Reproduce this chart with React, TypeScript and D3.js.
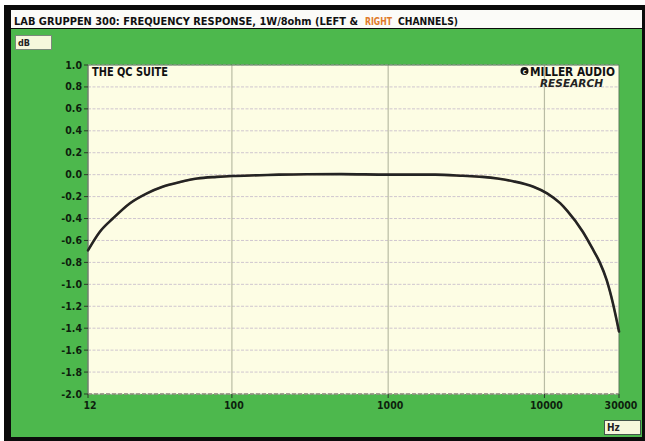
import React from "react";
import * as d3 from "d3";

const freqs = [12, 14.3, 17.3, 22.3, 28.6, 36, 46.6, 60, 80, 100, 150, 200, 300, 500, 1000, 2000, 3000, 4000, 5000, 6300, 8500, 10400, 12600, 14000, 17600, 20400, 22600, 25000, 27400, 30000];
const levels = [-0.69, -0.52, -0.40, -0.26, -0.17, -0.11, -0.067, -0.035, -0.02, -0.012, -0.005, 0, 0.004, 0.005, 0.0, 0.0, -0.01, -0.02, -0.035, -0.06, -0.11, -0.17, -0.26, -0.33, -0.52, -0.68, -0.80, -0.96, -1.17, -1.43];
const yTicks = [1.0, 0.8, 0.6, 0.4, 0.2, 0.0, -0.2, -0.4, -0.6, -0.8, -1.0, -1.2, -1.4, -1.6, -1.8, -2.0];
const xTicks = [12, 100, 1000, 10000, 30000];
const xGrid = [100, 1000, 10000];

const W = 645, H = 441;
const L = 88, R = 619, T = 65, B = 394;
const FONT = "'Liberation Sans Narrow', 'DejaVu Sans Condensed', 'Arial Narrow', sans-serif";

export default function App() {
  const x = d3.scaleLog().domain([12, 30000]).range([L, R]);
  const y = d3.scaleLinear().domain([-2, 1]).range([B, T]);
  const line = d3.line<number>()
    .x((_, i) => x(freqs[i]))
    .y((d) => y(d))
    .curve(d3.curveMonotoneX);
  const path = line(levels) || "";

  return (
    <svg width={W} height={H} style={{ position: "absolute", left: 0, top: 0 }}>
      <rect x={0} y={0} width={W} height={H} fill="#ffffff" />
      {/* outer black frame */}
      <rect x={4} y={5} width={641} height={436} fill="#0b0b0b" />
      {/* title bar */}
      <rect x={11} y={10} width={631} height={18} fill="#fbfbf8" />
      {/* green panel */}
      <rect x={11} y={29} width={631} height={408} fill="#4db84d" />
      <text x={14} y={25} fontFamily={FONT} fontWeight="bold" fontSize={10.5} fill="#111" textLength={344} lengthAdjust="spacingAndGlyphs">LAB GRUPPEN 300: FREQUENCY RESPONSE, 1W/8ohm (LEFT &amp;</text>
      <text x={365} y={25} fontFamily={FONT} fontWeight="bold" fontSize={10.5} fill="#e07a2a" textLength={27} lengthAdjust="spacingAndGlyphs">RIGHT</text>
      <text x={398} y={25} fontFamily={FONT} fontWeight="bold" fontSize={10.5} fill="#111" textLength={60} lengthAdjust="spacingAndGlyphs">CHANNELS)</text>
      {/* dB box */}
      <rect x={15.5} y={35.5} width={36} height={14} fill="#f6f8dc" stroke="#7a8a7a" strokeWidth={1} />
      <text x={18} y={46} fontFamily={FONT} fontWeight="bold" fontSize={9} fill="#222">dB</text>
      {/* Hz box */}
      <rect x={604.5} y={420.5} width={36} height={14} fill="#f6f8dc" stroke="#44554a" strokeWidth={1} />
      <text x={607} y={431} fontFamily={FONT} fontWeight="bold" fontSize={10} fill="#222">Hz</text>

      {/* plot area */}
      <rect x={L} y={T} width={R - L} height={B - T} fill="#fdfde4" />
      {yTicks.map((t, i) => (
        <line key={"hg" + i} x1={L} x2={R} y1={y(t)} y2={y(t)} stroke="#cfc6cf" strokeWidth={1} strokeDasharray="3,1.5" />
      ))}
      {xGrid.map((t) => (
        <line key={"vg" + t} x1={x(t)} x2={x(t)} y1={T} y2={B} stroke="#b9bca4" strokeWidth={1.2} />
      ))}
      {/* axes */}
      <line x1={L} x2={L} y1={T} y2={B} stroke="#6f7f6f" strokeWidth={1.5} />
      <line x1={L} x2={R} y1={B} y2={B} stroke="#8a8a7a" strokeWidth={1.5} strokeDasharray="4,2" />
      <line x1={L} x2={R} y1={T} y2={T} stroke="#5d7a5d" strokeWidth={1} />
      <line x1={R} x2={R} y1={T} y2={B} stroke="#5d7a5d" strokeWidth={1} />
      {yTicks.map((t, i) => (
        <g key={"yt" + i}>
          <line x1={L - 4} x2={L} y1={y(t)} y2={y(t)} stroke="#2a3a2a" strokeWidth={1} />
          <text x={L - 6} y={y(t) + 3.5} textAnchor="end" fontFamily={FONT} fontWeight="bold" fontSize={10.5} fill="#0d1f0d">
            {t.toFixed(1)}
          </text>
        </g>
      ))}
      {xTicks.map((t) => (
        <g key={"xt" + t}>
          <line x1={x(t)} x2={x(t)} y1={B} y2={B + 4} stroke="#2a3a2a" strokeWidth={1} />
          <text x={x(t) + 2} y={409} textAnchor="middle" fontFamily={FONT} fontWeight="bold" fontSize={10.5} fill="#0d1f0d">
            {t}
          </text>
        </g>
      ))}

      {/* annotations */}
      <text x={92} y={76} fontFamily={FONT} fontWeight="bold" fontSize={11.5} fill="#111" textLength={76} lengthAdjust="spacingAndGlyphs">THE QC SUITE</text>
      <circle cx={524.5} cy={71} r={4} fill="#111" />
      <text x={524.5} y={73.5} textAnchor="middle" fontFamily={FONT} fontWeight="bold" fontSize={7} fill="#fdfde8">c</text>
      <text x={530} y={75.5} fontFamily={FONT} fontWeight="bold" fontSize={11.5} fill="#111" textLength={85} lengthAdjust="spacingAndGlyphs">MILLER AUDIO</text>
      <text x={540} y={87} fontFamily={FONT} fontWeight="bold" fontStyle="italic" fontSize={11} fill="#222" textLength={63} lengthAdjust="spacingAndGlyphs">RESEARCH</text>

      {/* response curves */}
      <path d={path} fill="none" stroke="#d07a40" strokeWidth={2} opacity={0.6} />
      <path d={path} fill="none" stroke="#242424" strokeWidth={2.6} strokeLinejoin="round" strokeLinecap="round" />
    </svg>
  );
}
